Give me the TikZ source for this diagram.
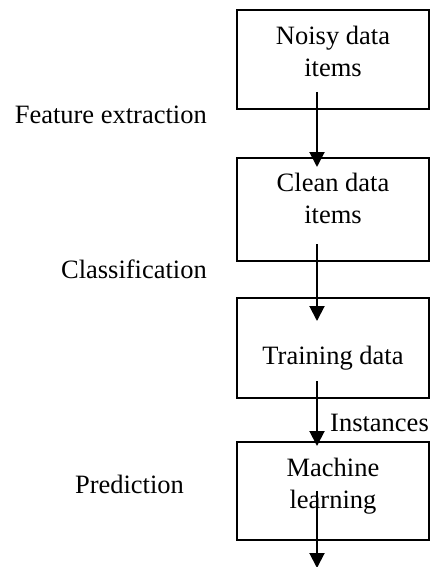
\documentclass[tikz,border=0pt]{standalone}
\usepackage{fontspec}
\setmainfont{Liberation Serif}
\usetikzlibrary{arrows.meta}
\begin{document}
\begin{tikzpicture}[x=1pt,y=-1pt,
  box/.style={draw,line width=2pt,minimum width=192pt,inner sep=0pt},
  txt/.style={font=\fontsize{26.5}{32}\selectfont,align=center,inner sep=0pt},
  arr/.style={line width=2pt,-{Triangle[length=15pt,width=15pt]}}]
\useasboundingbox (0,0) rectangle (430,567);
% boxes
\node[box,minimum height=99pt] (n1) at (333,59.5) {};
\node[box,minimum height=103pt] (n2) at (333,209.5) {};
\node[box,minimum height=100pt] (n3) at (333,348) {};
\node[box,minimum height=98pt] (n4) at (333,491) {};
% box texts
\node[txt,anchor=north] (t1) at ([yshift=-17pt]n1.north) {Noisy data\\items};
\node[txt,anchor=north] (t2) at ([yshift=-16pt]n2.north) {Clean data\\items};
\node[txt,anchor=north] (t3) at ([yshift=-49pt]n3.north) {Training data};
\node[txt,anchor=north] (t4) at ([yshift=-17pt]n4.north) {Machine\\learning};
% side labels
\node[txt,anchor=base east] (l1) at (207,124) {Feature extraction};
\node[txt,anchor=base east] (l2) at (207,278) {Classification};
\node[txt,anchor=base] (l3) at (129.5,493) {Prediction};
\node[txt,anchor=base west] (l4) at (330,431) {Instances};
% arrows
\draw[arr] ([xshift=-16pt,yshift=18pt]n1.south) -- ([xshift=-16pt,yshift=-10pt]n2.north);
\draw[arr] ([xshift=-16pt,yshift=18pt]n2.south) -- ([xshift=-16pt,yshift=-24pt]n3.north);
\draw[arr] ([xshift=-16pt,yshift=18pt]n3.south) -- ([xshift=-16pt,yshift=-5pt]n4.north);
\draw[arr] ([xshift=-16pt,yshift=50pt]n4.south) -- ([xshift=-16pt,yshift=-27pt]n4.south);
\end{tikzpicture}
\end{document}
